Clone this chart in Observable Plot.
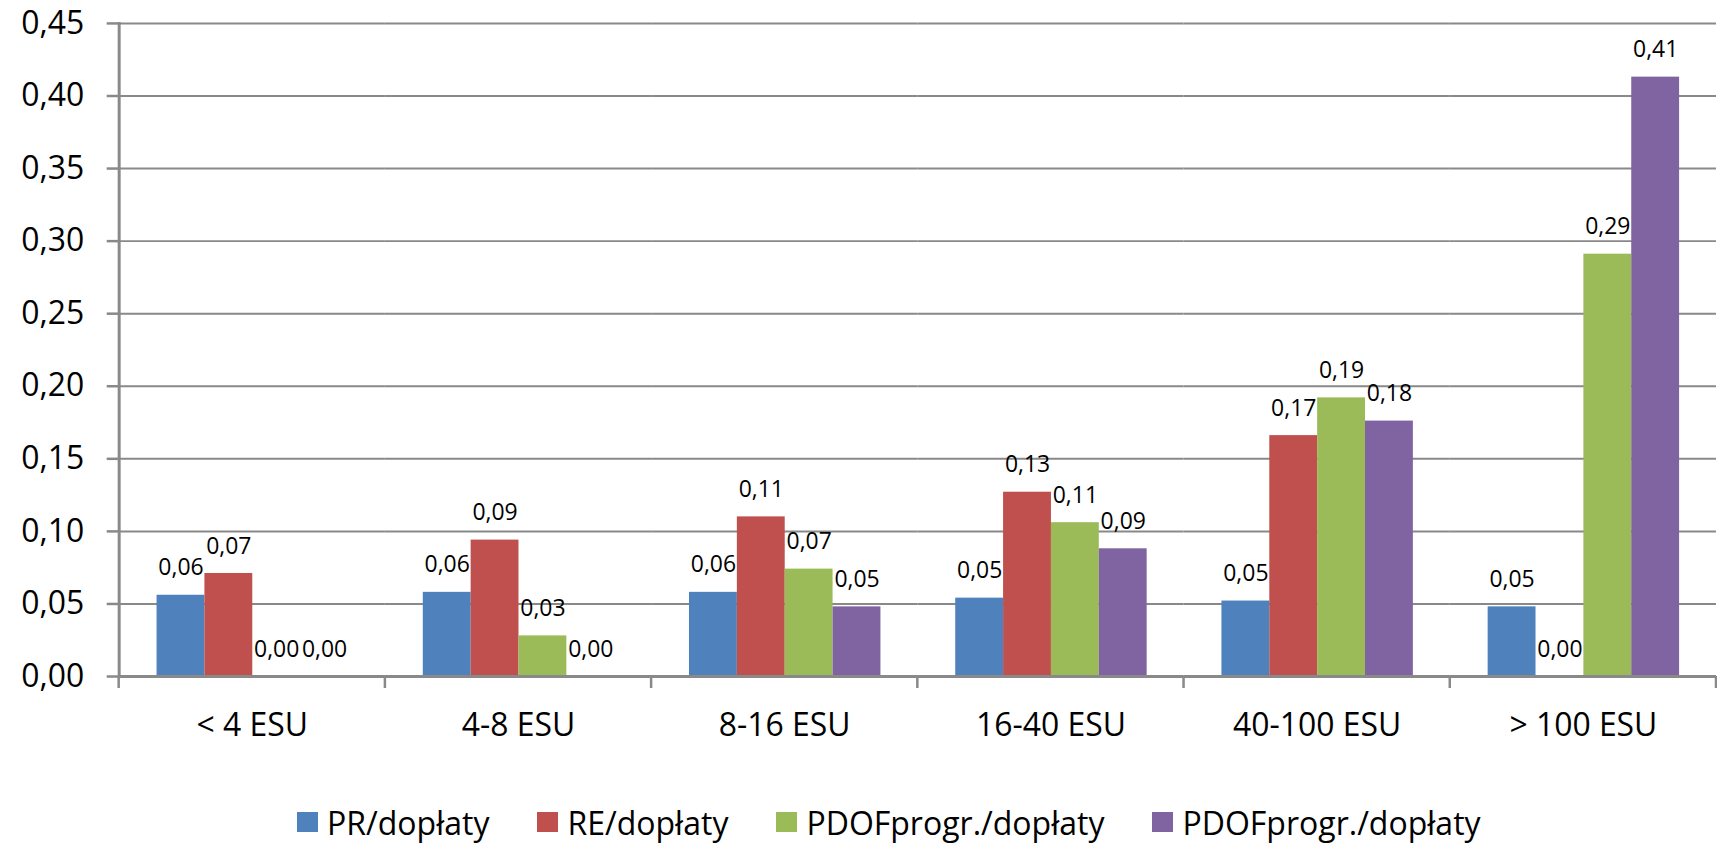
<!DOCTYPE html>
<html>
<head>
<meta charset="utf-8">
<script src="https://cdn.jsdelivr.net/npm/d3@7"></script>
<script src="https://cdn.jsdelivr.net/npm/@observablehq/plot@0.6"></script>
<style>
  html, body { margin: 0; padding: 0; background: #fff; overflow: hidden; }
  body { width: 1717px; height: 844px; position: relative; font-family: "Open Sans", sans-serif; }
  #chart { position: absolute; left: 0; top: 0; }
  #legend {
    position: absolute; left: 297px; top: 800px; height: 44px;
    display: flex; align-items: center; gap: 48px;
    font-size: 32px; color: #000; white-space: nowrap;
  }
  #legend .item { display: flex; align-items: center; }
  #legend .swatch { width: 21px; height: 20px; margin-right: 9px; }
</style>
</head>
<body>
<div id="chart"></div>
<div id="legend"></div>
<script>
// Farm size classes (ESU)
const categories = ["< 4 ESU", "4-8 ESU", "8-16 ESU", "16-40 ESU", "40-100 ESU", "> 100 ESU"];

// Series keys, their legend labels and colours
const seriesKeys = ["pr", "re", "pdof1", "pdof2"];
const seriesLabels = ["PR/dopłaty", "RE/dopłaty", "PDOFprogr./dopłaty", "PDOFprogr./dopłaty"];
const seriesColors = ["#4F81BD", "#C0504D", "#9BBB59", "#8064A2"];

// Ratios per size class
const prValues    = [0.056, 0.058, 0.058, 0.054, 0.052, 0.048];
const reValues    = [0.071, 0.094, 0.110, 0.127, 0.166, 0.000];
const pdof1Values = [0.000, 0.028, 0.074, 0.106, 0.192, 0.291];
const pdof2Values = [0.000, 0.000, 0.048, 0.088, 0.176, 0.413];

// Value axis ticks
const yTicks = [0, 0.05, 0.10, 0.15, 0.20, 0.25, 0.30, 0.35, 0.40, 0.45];

const seriesValues = [prValues, reValues, pdof1Values, pdof2Values];
const rows = seriesKeys.flatMap((key, k) =>
  categories.map((category, i) => ({category, series: key, value: seriesValues[k][i]}))
);

const fmt = (v) => v.toFixed(2).replace(".", ",");
const axisGray = "#898989";

const plot = Plot.plot({
  width: 1722,
  height: 760,
  marginTop: 23,
  marginBottom: 82,
  marginLeft: 117,
  marginRight: 0,
  style: {fontFamily: "Open Sans, sans-serif", fontSize: "32px", color: "#000", background: "#fff"},
  fx: {domain: categories, padding: 0, label: null, axis: null},
  x: {domain: seriesKeys, paddingInner: 0, paddingOuter: 0.75, axis: null},
  y: {domain: [0, 0.45], label: null},
  color: {domain: seriesKeys, range: seriesColors},
  marks: [
    // horizontal gridlines
    Plot.ruleY(yTicks, {stroke: axisGray, strokeWidth: 2}),
    Plot.axisY(yTicks, {
      tickFormat: fmt, tickSize: 12, tickPadding: 23, stroke: axisGray, strokeWidth: 2.5,
      strokeOpacity: 1, fontSize: 32, label: null, facetAnchor: "left"
    }),
    // category labels below the baseline
    Plot.axisFx({anchor: "bottom", tickSize: 0, tickPadding: 37, fontSize: 32, label: null}),
    Plot.barY(rows, {fx: "category", x: "series", y: "value", fill: "series"}),
    // baseline and vertical axis line
    Plot.ruleY([0], {stroke: axisGray, strokeWidth: 3}),
    Plot.frame({anchor: "left", facetAnchor: "left", stroke: axisGray, strokeWidth: 3}),
    // value labels above each bar
    Plot.text(rows, {
      fx: "category", x: "series", y: "value", text: (d) => fmt(d.value),
      lineAnchor: "bottom", dy: -20, fontSize: 23, fill: "#000"
    })
  ]
});

// category boundary tick marks under the baseline, placed with the facet scale
const fxScale = plot.scale("fx");
const yScale = plot.scale("y");
const y0 = yScale.apply(0);
const bounds = categories.map((c) => fxScale.apply(c)).concat([fxScale.apply(categories[categories.length - 1]) + fxScale.step]);
d3.select(plot).append("g")
  .attr("stroke", axisGray).attr("stroke-width", 2.5)
  .selectAll("line").data(bounds).join("line")
  .attr("x1", (d) => d).attr("x2", (d) => d)
  .attr("y1", y0).attr("y2", y0 + 12);

document.getElementById("chart").append(plot);

// legend
const legend = d3.select("#legend");
seriesKeys.forEach((key, k) => {
  const item = legend.append("div").attr("class", "item");
  item.append("div").attr("class", "swatch").style("background", seriesColors[k]);
  item.append("span").text(seriesLabels[k]);
});
</script>
</body>
</html>
